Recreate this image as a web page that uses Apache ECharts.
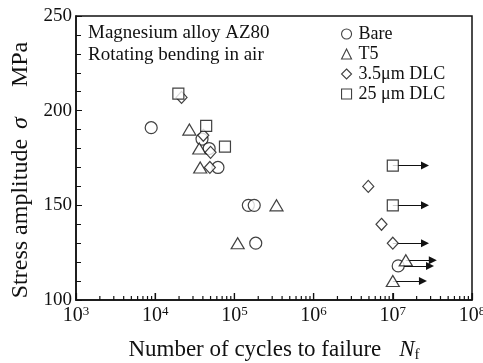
<!DOCTYPE html>
<html>
<head>
<meta charset="utf-8">
<script src="https://cdn.jsdelivr.net/npm/echarts@6/dist/echarts.min.js"></script>
<style>
html, body { margin: 0; padding: 0; background: #fff; }
#chart { width: 483px; height: 363px; }
</style>
</head>
<body>
<div id="chart"></div>
<script>
// cycles to failure (N) and stress amplitude (MPa) per surface condition
var bareN = [8.9e3, 3.9e4, 4.8e4, 6.2e4, 1.5e5, 1.78e5, 1.86e5, 1.17e7];
var bareS = [191, 185, 180, 170, 150, 150, 130, 118];
var t5N = [2.7e4, 3.6e4, 3.7e4, 3.4e5, 1.1e5, 1.46e7, 1.0e7];
var t5S = [190, 180, 170, 150, 130, 121, 110];
var dlc35N = [2.15e4, 4.05e4, 5.0e4, 4.9e4, 4.9e6, 7.2e6, 1.0e7];
var dlc35S = [207, 187, 178, 170, 160, 140, 130];
var dlc25N = [1.96e4, 4.4e4, 7.6e4, 1.0e7, 1.0e7];
var dlc25S = [209, 192, 181, 171, 150];

// run-outs (did not fail): start N, stress, arrow tip N
var runN = [1.0e7, 1.0e7, 1.0e7, 1.46e7, 1.17e7, 1.0e7];
var runS = [171, 150, 130, 121, 118, 110];
var runEnd = [2.55e7, 2.55e7, 2.55e7, 3.2e7, 2.95e7, 2.4e7];

// tick positions on the log axis (1..9 x 10^n)
var xTicks = [];
for (var e = 3; e <= 8; e++) {
    for (var k = 1; k <= 9; k++) {
        if (e === 8 && k > 1) break;
        xTicks.push(k * Math.pow(10, e));
    }
}

function pairs(xs, ys) {
    return xs.map(function (x, i) { return [x, ys[i]]; });
}

var serif = '"Liberation Serif", "Times New Roman", serif';
var mark = { color: '#fff', borderColor: '#111', borderWidth: 1.2 };

var texts = [
    { type: 'text', left: 88, top: 24, style: { text: 'Magnesium alloy AZ80', font: '19px ' + serif, fill: '#111' } },
    { type: 'text', left: 88, top: 46, style: { text: 'Rotating bending in air', font: '19px ' + serif, fill: '#111' } }
];

var myChart = echarts.init(document.getElementById('chart'));

var option = {
    animation: false,
    textStyle: { fontFamily: serif, color: '#111' },
    grid: {
        left: 76, right: 11, top: 16, bottom: 63,
        outerBoundsMode: 'none',
        show: true, borderColor: '#111', borderWidth: 1.5
    },
    legend: {
        orient: 'vertical',
        left: 336,
        top: 19,
        itemGap: 0,
        itemWidth: 10,
        itemHeight: 10,
        itemStyle: { color: '#fff', borderColor: '#111', borderWidth: 1.1 },
        textStyle: { fontFamily: serif, fontSize: 18, color: '#111', lineHeight: 20, padding: [0, 0, 0, 2] },
        data: [
            { name: 'Bare', icon: 'circle' },
            { name: 'T5', icon: 'triangle' },
            { name: '3.5μm DLC', icon: 'diamond' },
            { name: '25 μm DLC', icon: 'rect' }
        ]
    },
    graphic: texts,
    xAxis: {
        type: 'log',
        logBase: 10,
        min: 1e3,
        max: 1e8,
        interval: 1,
        name: '{t|Number of cycles to failure}{n|N}{f|f}',
        nameLocation: 'middle',
        nameGap: 37,
        nameTextStyle: {
            rich: {
                t: { fontFamily: serif, fontSize: 23, color: '#111', lineHeight: 26 },
                n: { fontFamily: serif, fontSize: 23, fontStyle: 'italic', color: '#111', padding: [0, 0, 0, 18], lineHeight: 26 },
                f: { fontFamily: serif, fontSize: 15, color: '#111', verticalAlign: 'bottom', lineHeight: 15 }
            }
        },
        axisLine: { lineStyle: { color: '#111', width: 1.5 } },
        axisTick: { show: true, inside: true, length: 7, lineStyle: { color: '#111', width: 1.2 } },
        splitLine: { show: false },
        axisLabel: {
            margin: 5,
            formatter: function (v) {
                return '{b|10}{e|' + Math.round(Math.log10(v)) + '}';
            },
            rich: {
                b: { fontFamily: serif, fontSize: 20, color: '#111', lineHeight: 22 },
                e: { fontFamily: serif, fontSize: 13, color: '#111', verticalAlign: 'top', lineHeight: 13 }
            }
        }
    },
    yAxis: {
        type: 'value',
        min: 100,
        max: 250,
        interval: 50,
        name: '{t|Stress amplitude}{s|σ}{m|MPa}',
        nameLocation: 'middle',
        nameGap: 40,
        nameTextStyle: {
            rich: {
                t: { fontFamily: serif, fontSize: 24, color: '#111' },
                s: { fontFamily: serif, fontSize: 24, fontStyle: 'italic', color: '#111', padding: [0, 30, 0, 10] },
                m: { fontFamily: serif, fontSize: 24, color: '#111', padding: [0, 24, 0, 0] }
            }
        },
        axisLine: { show: true, lineStyle: { color: '#111', width: 1.5 } },
        axisTick: { inside: true, length: 6, lineStyle: { color: '#111' } },
        minorTick: { show: true, splitNumber: 5, length: 5, lineStyle: { color: '#111' } },
        splitLine: { show: false },
        axisLabel: { margin: 4, fontFamily: serif, fontSize: 19, color: '#111' }
    },
    series: [
        {
            name: 'runout',
            type: 'lines',
            coordinateSystem: 'cartesian2d',
            silent: true,
            z: 1,
            symbol: ['none', 'triangle'],
            symbolSize: [7, 8],
            lineStyle: { color: '#111', width: 1.2, opacity: 1 },
            data: runN.map(function (n, i) {
                return { coords: [[n, runS[i]], [runEnd[i], runS[i]]] };
            })
        },
        { name: 'Bare', type: 'scatter', z: 3, symbol: 'circle', symbolSize: 12, itemStyle: mark, data: pairs(bareN, bareS) },
        { name: 'T5', type: 'scatter', z: 3, symbol: 'triangle', symbolSize: [13, 11], itemStyle: mark, data: pairs(t5N, t5S) },
        { name: '3.5μm DLC', type: 'scatter', z: 3, symbol: 'diamond', symbolSize: [11, 12], itemStyle: mark, data: pairs(dlc35N, dlc35S) },
        { name: '25 μm DLC', type: 'scatter', z: 3, symbol: 'rect', symbolSize: 11, itemStyle: mark, data: pairs(dlc25N, dlc25S) }
    ]
};

myChart.setOption(option);

// log-axis tick marks, placed through the axis scale
var tickLines = xTicks.map(function (v, i) {
    var p = myChart.convertToPixel({ xAxisIndex: 0, yAxisIndex: 0 }, [v, 100]);
    var len = (i % 9 === 0) ? 7 : 4;
    return {
        type: 'line', z: 100, silent: true,
        shape: { x1: p[0], y1: p[1], x2: p[0], y2: p[1] - len },
        style: { stroke: '#111', lineWidth: 1.2 }
    };
});
myChart.setOption({ graphic: texts.concat(tickLines) });
</script>
</body>
</html>
